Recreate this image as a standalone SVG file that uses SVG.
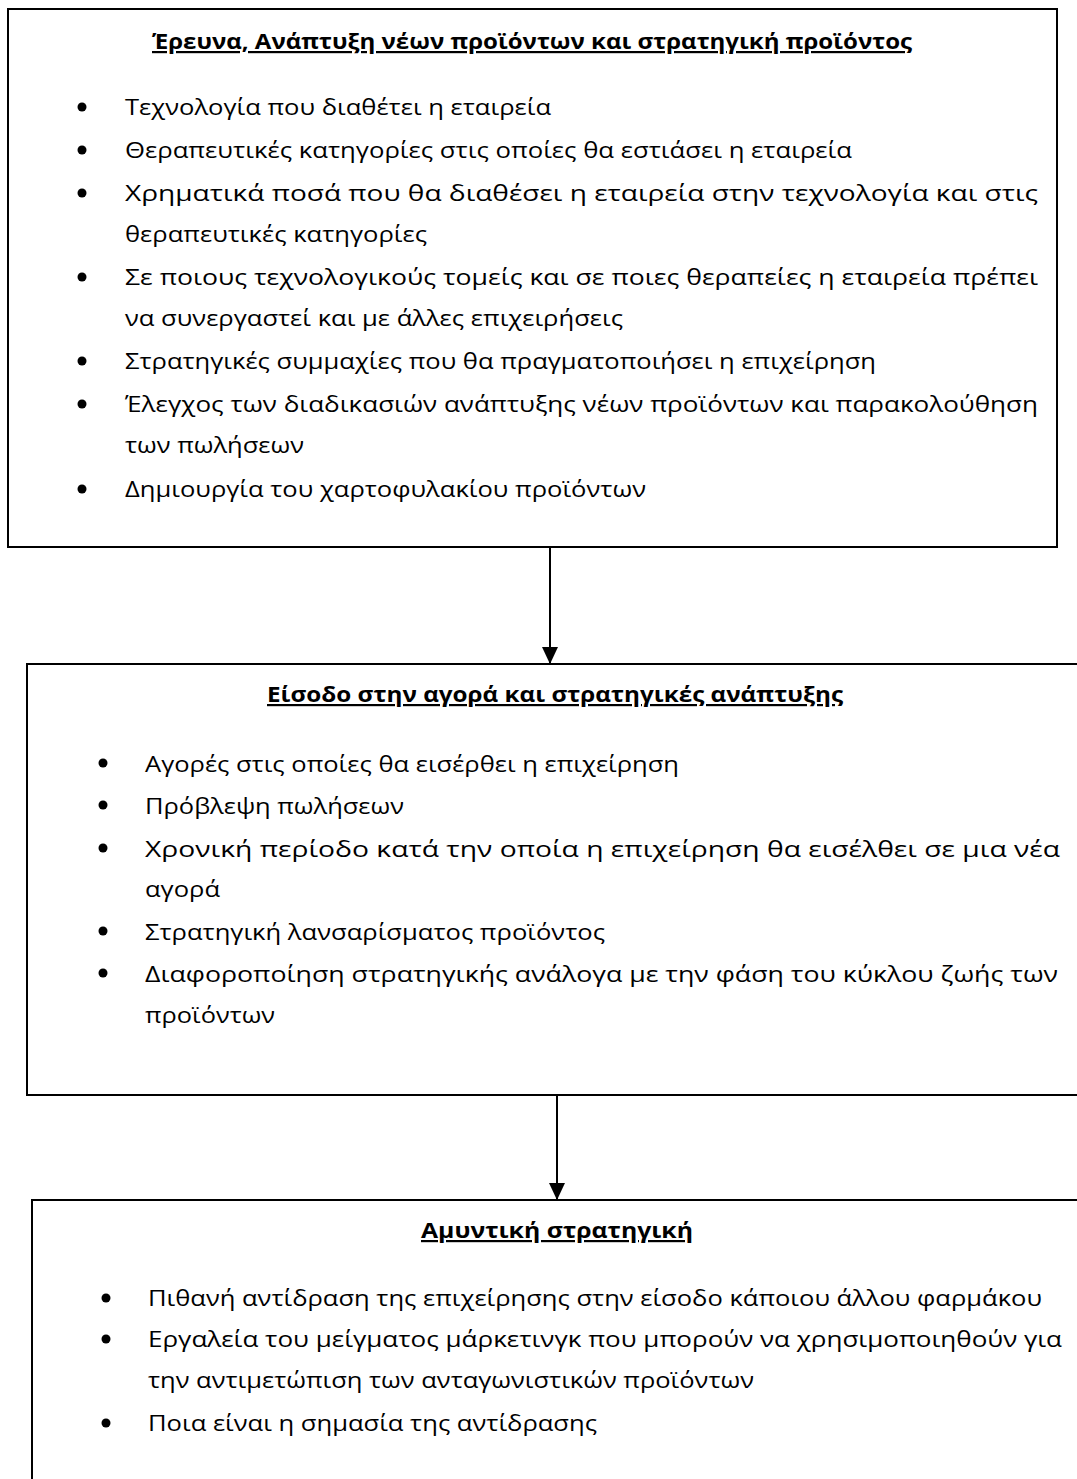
<svg xmlns="http://www.w3.org/2000/svg" width="1077" height="1479" viewBox="0 0 1077 1479">
<style>
.box{fill:#fff;stroke:#000;stroke-width:2}
.t{font-family:"Open Sans","Noto Sans","DejaVu Sans",sans-serif;font-size:22px;fill:#000}
.h{font-family:"Open Sans","Noto Sans","DejaVu Sans",sans-serif;font-size:22px;font-weight:bold;text-decoration:underline;fill:#000}
.b{fill:#000}
.c{stroke:#000;stroke-width:2;fill:none}
</style>
<defs>
<marker id="ah" markerWidth="17" markerHeight="16" refX="17" refY="8" orient="auto" markerUnits="userSpaceOnUse" viewBox="0 0 17 16">
<path d="M0,0 L17,8 L0,16 Z" fill="#000"/>
</marker>
</defs>
<rect width="1077" height="1479" fill="#fff"/>
<g id="node1">
<rect class="box" x="8" y="9" width="1049" height="538"/>
<text class="h" x="532" y="49" text-anchor="middle" textLength="760" lengthAdjust="spacingAndGlyphs">Έρευνα, Ανάπτυξη νέων προϊόντων και στρατηγική προϊόντος</text>
<circle class="b" cx="82" cy="107" r="4.5"/>
<text class="t" x="125" y="115" textLength="426" lengthAdjust="spacingAndGlyphs">Τεχνολογία που διαθέτει η εταιρεία</text>
<circle class="b" cx="82" cy="150" r="4.5"/>
<text class="t" x="125" y="158" textLength="727" lengthAdjust="spacingAndGlyphs">Θεραπευτικές κατηγορίες στις οποίες θα εστιάσει η εταιρεία</text>
<circle class="b" cx="82" cy="193" r="4.5"/>
<text class="t" x="125" y="201" textLength="913" lengthAdjust="spacingAndGlyphs">Χρηματικά ποσά που θα διαθέσει η εταιρεία στην τεχνολογία και στις</text>
<text class="t" x="125" y="242" textLength="302" lengthAdjust="spacingAndGlyphs">θεραπευτικές κατηγορίες</text>
<circle class="b" cx="82" cy="277" r="4.5"/>
<text class="t" x="125" y="285" textLength="913" lengthAdjust="spacingAndGlyphs">Σε ποιους τεχνολογικούς τομείς και σε ποιες θεραπείες η εταιρεία πρέπει</text>
<text class="t" x="125" y="326" textLength="498" lengthAdjust="spacingAndGlyphs">να συνεργαστεί και με άλλες επιχειρήσεις</text>
<circle class="b" cx="82" cy="361" r="4.5"/>
<text class="t" x="125" y="369" textLength="751" lengthAdjust="spacingAndGlyphs">Στρατηγικές συμμαχίες που θα πραγματοποιήσει η επιχείρηση</text>
<circle class="b" cx="82" cy="404" r="4.5"/>
<text class="t" x="125" y="412" textLength="913" lengthAdjust="spacingAndGlyphs">Έλεγχος των διαδικασιών ανάπτυξης νέων προϊόντων και παρακολούθηση</text>
<text class="t" x="125" y="453" textLength="179" lengthAdjust="spacingAndGlyphs">των πωλήσεων</text>
<circle class="b" cx="82" cy="489" r="4.5"/>
<text class="t" x="125" y="497" textLength="521" lengthAdjust="spacingAndGlyphs">Δημιουργία του χαρτοφυλακίου προϊόντων</text>
</g>
<g id="node2">
<rect class="box" x="27" y="664" width="1065" height="431"/>
<text class="h" x="555" y="702" text-anchor="middle" textLength="576" lengthAdjust="spacingAndGlyphs">Είσοδο στην αγορά και στρατηγικές ανάπτυξης</text>
<circle class="b" cx="103" cy="763" r="4.5"/>
<text class="t" x="145" y="772" textLength="534" lengthAdjust="spacingAndGlyphs">Αγορές στις οποίες θα εισέρθει η επιχείρηση</text>
<circle class="b" cx="103" cy="805" r="4.5"/>
<text class="t" x="145" y="814" textLength="259" lengthAdjust="spacingAndGlyphs">Πρόβλεψη πωλήσεων</text>
<circle class="b" cx="103" cy="848" r="4.5"/>
<text class="t" x="145" y="857" textLength="915" lengthAdjust="spacingAndGlyphs">Χρονική περίοδο κατά την οποία η επιχείρηση θα εισέλθει σε μια νέα</text>
<text class="t" x="145" y="897" textLength="75" lengthAdjust="spacingAndGlyphs">αγορά</text>
<circle class="b" cx="103" cy="931" r="4.5"/>
<text class="t" x="145" y="940" textLength="460" lengthAdjust="spacingAndGlyphs">Στρατηγική λανσαρίσματος προϊόντος</text>
<circle class="b" cx="103" cy="973" r="4.5"/>
<text class="t" x="145" y="982" textLength="913" lengthAdjust="spacingAndGlyphs">Διαφοροποίηση στρατηγικής ανάλογα με την φάση του κύκλου ζωής των</text>
<text class="t" x="145" y="1023" textLength="130" lengthAdjust="spacingAndGlyphs">προϊόντων</text>
</g>
<g id="node3">
<rect class="box" x="32" y="1200" width="1060" height="300"/>
<text class="h" x="557" y="1238" text-anchor="middle" textLength="272" lengthAdjust="spacingAndGlyphs">Αμυντική στρατηγική</text>
<circle class="b" cx="106" cy="1298" r="4.5"/>
<text class="t" x="148" y="1306" textLength="894" lengthAdjust="spacingAndGlyphs">Πιθανή αντίδραση της επιχείρησης στην είσοδο κάποιου άλλου φαρμάκου</text>
<circle class="b" cx="106" cy="1339" r="4.5"/>
<text class="t" x="148" y="1347" textLength="914" lengthAdjust="spacingAndGlyphs">Εργαλεία του μείγματος μάρκετινγκ που μπορούν να χρησιμοποιηθούν για</text>
<text class="t" x="148" y="1388" textLength="606" lengthAdjust="spacingAndGlyphs">την αντιμετώπιση των ανταγωνιστικών προϊόντων</text>
<circle class="b" cx="106" cy="1423" r="4.5"/>
<text class="t" x="148" y="1431" textLength="449" lengthAdjust="spacingAndGlyphs">Ποια είναι η σημασία της αντίδρασης</text>
</g>
<g id="connectors">
<line class="c" x1="550" y1="547" x2="550" y2="664" marker-end="url(#ah)"/>
<line class="c" x1="557" y1="1095" x2="557" y2="1200" marker-end="url(#ah)"/>
</g>
</svg>
